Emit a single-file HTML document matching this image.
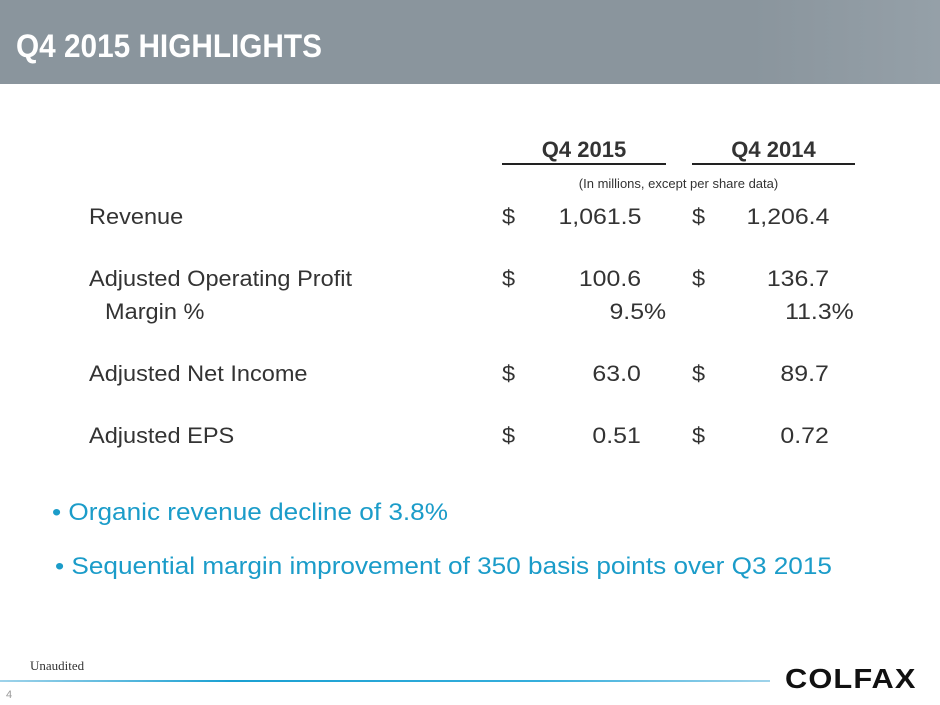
<!DOCTYPE html>
<html><head><meta charset="utf-8"><style>
body{margin:0;width:940px;height:705px;position:relative;background:#fff;overflow:hidden;font-family:"Liberation Sans",Arial,sans-serif;color:#333}
.a{position:absolute;white-space:nowrap}
.r{position:absolute;white-space:nowrap;text-align:right}
.t{font-size:22px;line-height:24px}
.a.t{transform:scaleX(1.07);transform-origin:left}
.r.t{transform:scaleX(1.13);transform-origin:right}
</style></head><body>
<div class="a" style="left:0;top:0;width:940px;height:84px;background:linear-gradient(90deg,#8a959d 0%,#8a959d 80%,#95a0a8 100%)"></div>
<div class="a" style="left:16px;top:26px;font-size:32px;font-weight:bold;color:#fff;line-height:40px;transform:scaleX(0.93);transform-origin:left">Q4 2015 HIGHLIGHTS</div>

<div class="a" style="left:502px;top:138px;width:164px;text-align:center;font-size:22px;font-weight:bold;line-height:24px">Q4 2015</div>
<div class="a" style="left:692px;top:138px;width:163px;text-align:center;font-size:22px;font-weight:bold;line-height:24px">Q4 2014</div>
<div class="a" style="left:502px;top:163px;width:164px;height:2px;background:#222"></div>
<div class="a" style="left:692px;top:163px;width:163px;height:2px;background:#222"></div>
<div class="a" style="left:502px;top:176px;width:353px;text-align:center;font-size:13px;line-height:16px">(In millions, except per share data)</div>

<div class="a t" style="left:89px;top:205px">Revenue</div>
<div class="a t" style="left:502px;top:205px">$</div>
<div class="r t" style="right:299px;top:205px">1,061.5</div>
<div class="a t" style="left:692px;top:205px">$</div>
<div class="r t" style="right:111px;top:205px">1,206.4</div>

<div class="a t" style="left:89px;top:267px">Adjusted Operating Profit</div>
<div class="a t" style="left:502px;top:267px">$</div>
<div class="r t" style="right:299px;top:267px">100.6</div>
<div class="a t" style="left:692px;top:267px">$</div>
<div class="r t" style="right:111px;top:267px">136.7</div>

<div class="a t" style="left:105px;top:300px">Margin %</div>
<div class="r t" style="right:274px;top:300px">9.5%</div>
<div class="r t" style="right:86px;top:300px">11.3%</div>

<div class="a t" style="left:89px;top:362px">Adjusted Net Income</div>
<div class="a t" style="left:502px;top:362px">$</div>
<div class="r t" style="right:299px;top:362px">63.0</div>
<div class="a t" style="left:692px;top:362px">$</div>
<div class="r t" style="right:111px;top:362px">89.7</div>

<div class="a t" style="left:89px;top:424px">Adjusted EPS</div>
<div class="a t" style="left:502px;top:424px">$</div>
<div class="r t" style="right:299px;top:424px">0.51</div>
<div class="a t" style="left:692px;top:424px">$</div>
<div class="r t" style="right:111px;top:424px">0.72</div>

<div class="a" style="left:52px;top:499px;font-size:24px;line-height:28px;color:#1b9cc9;transform:scaleX(1.09);transform-origin:left">• Organic revenue decline of 3.8%</div>
<div class="a" style="left:55px;top:553px;font-size:24px;line-height:28px;color:#1b9cc9;transform:scaleX(1.09);transform-origin:left">• Sequential margin improvement of 350 basis points over Q3 2015</div>

<div class="a" style="left:30px;top:658px;font-family:'Liberation Serif',serif;font-size:13px;color:#333">Unaudited</div>
<div class="a" style="left:0;top:680px;width:770px;height:2px;background:linear-gradient(90deg,#9fd3ea,#1aa0d2 30%,#35aedc 70%,#9fd3ea)"></div>
<div class="a" style="left:6px;top:689px;font-size:11px;color:#999">4</div>
<div class="a" style="left:785px;top:664px;font-size:28px;font-weight:bold;color:#111;letter-spacing:1px;line-height:30px;transform:scaleX(1.1);transform-origin:left">COLFAX</div>
</body></html>
